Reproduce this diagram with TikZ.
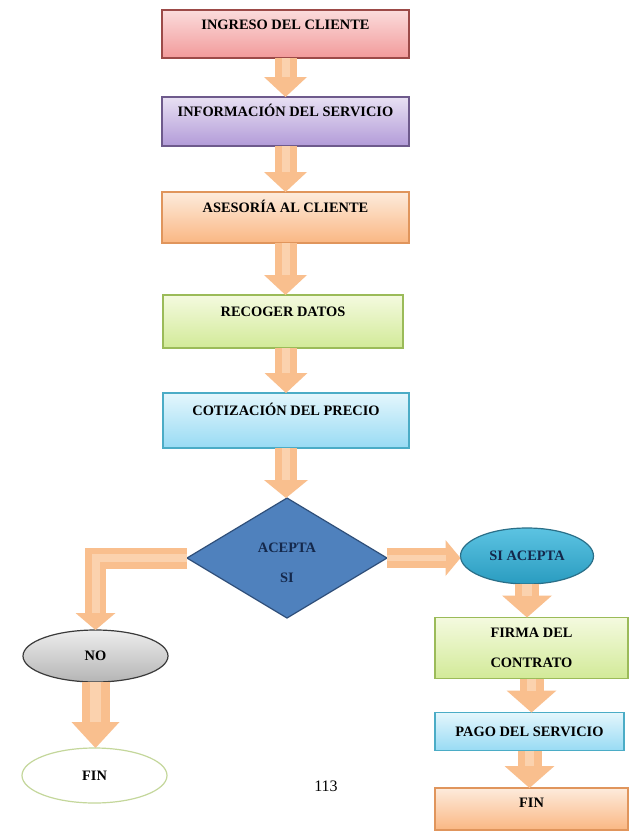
\documentclass[tikz,border=0pt]{standalone}
\usepackage{fontspec}
\setmainfont{Liberation Serif}
\usetikzlibrary{shapes.geometric,arrows.meta}

% fills and outlines
\definecolor{pinkT}{HTML}{FBDCDC}
\definecolor{pinkB}{HTML}{F29A9A}
\definecolor{pinkE}{HTML}{9C4A48}
\definecolor{lilacT}{HTML}{E8E0F3}
\definecolor{lilacB}{HTML}{B29BD8}
\definecolor{lilacE}{HTML}{6E5A8C}
\definecolor{orangeT}{HTML}{FDEBDC}
\definecolor{orangeB}{HTML}{FAB783}
\definecolor{orangeE}{HTML}{E0955C}
\definecolor{greenT}{HTML}{F4FADF}
\definecolor{greenB}{HTML}{D2EA98}
\definecolor{greenE}{HTML}{9BBB59}
\definecolor{blueT}{HTML}{E4F6FC}
\definecolor{blueB}{HTML}{98DBF4}
\definecolor{blueE}{HTML}{4BACC6}
\definecolor{diaF}{HTML}{4F81BD}
\definecolor{diaE}{HTML}{2F4F7A}
\definecolor{siT}{HTML}{5CC3E2}
\definecolor{siB}{HTML}{2A9CC0}
\definecolor{siE}{HTML}{2A6F88}
\definecolor{noT}{HTML}{EDEDED}
\definecolor{noB}{HTML}{B5B5B5}
\definecolor{noE}{HTML}{3A3A3A}
\definecolor{finE}{HTML}{C4D79B}
\definecolor{navy}{HTML}{14284B}
\definecolor{arrowC}{HTML}{F9BF8E}
\definecolor{arrowL}{HTML}{FBD2AE}

\tikzset{
  boxtxt/.style={font=\bfseries\fontsize{10.8}{13}\selectfont},
  proc/.style={rectangle, inner sep=0pt, outer sep=0pt, line width=0.9pt, boxtxt},
  oval/.style={ellipse, inner sep=0pt, outer sep=0pt, line width=0.9pt, boxtxt},
  raised/.style={text height=7.4pt, text depth=#1},
  pinkfill/.style={top color=pinkT, bottom color=pinkB, draw=pinkE},
  lilacfill/.style={top color=lilacT, bottom color=lilacB, draw=lilacE},
  orangefill/.style={top color=orangeT, bottom color=orangeB, draw=orangeE},
  greenfill/.style={top color=greenT, bottom color=greenB, draw=greenE},
  bluefill/.style={top color=blueT, bottom color=blueB, draw=blueE},
  diafill/.style={fill=diaF, draw=diaE, line width=0.9pt},
  sifill/.style={top color=siT, bottom color=siB, draw=siE},
  nofill/.style={top color=noT, bottom color=noB, draw=noE},
  finfill/.style={fill=white, draw=finE},
  % block arrow: shaft width, head width, head length, highlight width
  flow/.style n args={4}{draw=arrowC, line width=#1,
    -{Triangle[width=#2,length=#3,line width=0pt]},
    postaction={draw=arrowL, line width=#4, arrows=-, shorten >=#3}},
}

\begin{document}
\begin{tikzpicture}[x=0.75pt,y=-0.75pt]
\useasboundingbox (0,0) rectangle (639,832);
\fill[white] (0,0) rectangle (639,832);

% main column
\node[proc, pinkfill, raised=14.3pt, minimum width=185.25pt, minimum height=36pt]
  (ingreso) at (285.5,34) {INGRESO DEL CLIENTE};
\node[proc, lilacfill, raised=14.3pt, minimum width=185.25pt, minimum height=36.75pt]
  (info) at (285.5,121.5) {INFORMACIÓN DEL SERVICIO};
\node[proc, orangefill, raised=14.3pt, minimum width=185.25pt, minimum height=38.25pt]
  (asesoria) at (285.5,217.5) {ASESORÍA AL CLIENTE};
\node[proc, greenfill, raised=14.3pt, minimum width=180pt, minimum height=39.75pt]
  (datos) at (283,321.5) {RECOGER DATOS};
\node[proc, bluefill, raised=14.3pt, minimum width=184.5pt, minimum height=41.25pt]
  (cotiz) at (286,420.5) {COTIZACIÓN DEL PRECIO};

% decision
\node[diamond, diafill, minimum width=150pt, minimum height=90pt, inner sep=0pt,
  outer sep=0pt, boxtxt, text=navy, align=center]
  (acepta) at (287,558) {\rule{0pt}{14.5pt}ACEPTA\\[10pt]SI};

% branches
\node[oval, sifill, minimum width=99.75pt, minimum height=42pt, text=navy]
  (si) at (527,556) {SI ACEPTA};
\node[oval, nofill, minimum width=108.75pt, minimum height=39pt]
  (no) at (95.5,656) {NO};
\node[oval, finfill, minimum width=108.75pt, minimum height=41.25pt]
  (finno) at (94.5,775.5) {FIN};
\node[proc, greenfill, minimum width=144.75pt, minimum height=45.75pt, align=center]
  (firma) at (531.5,648) {FIRMA DEL\\[9.2pt]CONTRATO};
\node[proc, bluefill, minimum width=141.75pt, minimum height=28.5pt]
  (pago) at (529.5,731.5) {PAGO DEL SERVICIO};
\node[proc, orangefill, raised=9.8pt, minimum width=144.75pt, minimum height=31.5pt]
  (finsi) at (531.5,809) {FIN};

% page number
\node[font=\fontsize{12}{14}\selectfont] (pagina) at (326,786) {113};

% connectors
\draw[flow={16.5pt}{32.25pt}{15pt}{6pt}] (ingreso.south) -- (info.north);
\draw[flow={16.5pt}{32.25pt}{15pt}{6pt}] (info.south) -- (asesoria.north);
\draw[flow={16.5pt}{32.25pt}{15pt}{6pt}] (asesoria.south) -- (asesoria.south |- datos.north);
\draw[flow={16.5pt}{32.25pt}{15pt}{6pt}] (cotiz.south |- datos.south) -- (cotiz.north);
\draw[flow={16.5pt}{33pt}{13.5pt}{6pt}] (cotiz.south) -- (cotiz.south |- acepta.north);
\draw[flow={15.75pt}{30pt}{12.75pt}{6pt}] (acepta.west) -| (no.north);
\draw[flow={15pt}{27pt}{11.25pt}{5pt}] (acepta.east) -- (acepta.east -| si.west);
\draw[flow={18pt}{37.5pt}{16.5pt}{7pt}] (si.south) -- (si.south |- firma.north);
\draw[flow={18pt}{37.5pt}{16.5pt}{7pt}] (firma.south) -- (firma.south |- pago.north);
\draw[flow={18pt}{37.5pt}{16.5pt}{7pt}] (pago.south) -- (pago.south |- finsi.north);
\draw[flow={21pt}{36pt}{19.5pt}{8pt}] (no.south) -- (no.south |- finno.north);
\end{tikzpicture}
\end{document}
